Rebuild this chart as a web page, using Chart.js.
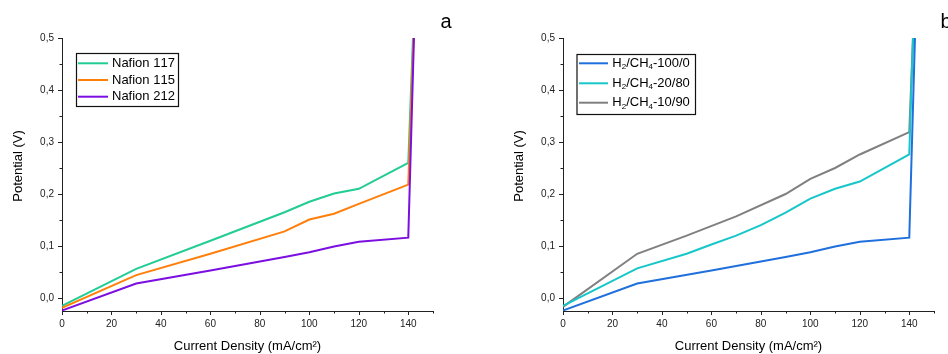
<!DOCTYPE html>
<html><head><meta charset="utf-8">
<script src="https://cdn.jsdelivr.net/npm/chart.js@4.4.1/dist/chart.umd.min.js"></script>
<style>
html,body{margin:0;padding:0;background:#fff;width:948px;height:354px;overflow:hidden}
.pane{position:absolute;top:0;width:474px;height:354px}
</style></head><body>
<div class="pane" style="left:0"><canvas id="ca" width="474" height="354"></canvas></div>
<div class="pane" style="left:474px"><canvas id="cb" width="474" height="354"></canvas></div>
<script>
// ---------- data ----------
const yTickLabels = ['0,0','0,1','0,2','0,3','0,4','0,5'];
const xTickLabels = [0,20,40,60,80,100,120,140];

// Panel a – membranes
const labelsA = ['Nafion 117','Nafion 115','Nafion 212'];
const nafion117X = [0,30,60,90,100,110,120,140,141.9];
const nafion117Y = [-0.015,0.056,0.110,0.165,0.185,0.201,0.210,0.260,0.5];
const nafion115X = [0,30,60,90,100,110,120,140,142.1];
const nafion115Y = [-0.019,0.044,0.085,0.128,0.151,0.162,0.181,0.218,0.5];
const nafion212X = [0,30,60,90,100,110,120,140,142.3];
const nafion212Y = [-0.024,0.028,0.053,0.079,0.088,0.099,0.108,0.116,0.5];

// Panel b – fuel composition
const labelsB = ['H\u2082/CH\u2084-100/0','H\u2082/CH\u2084-20/80','H\u2082/CH\u2084-10/90'];
const h2_100X = [0,30,60,90,100,110,120,140,142.3];
const h2_100Y = [-0.024,0.028,0.053,0.079,0.088,0.099,0.108,0.116,0.5];
const h2_20X = [0,30,50,60,70,80,90,100,110,120,140,141.5];
const h2_20Y = [-0.015,0.057,0.085,0.103,0.120,0.140,0.164,0.191,0.210,0.224,0.276,0.5];
const h2_10X = [0,30,50,70,90,100,110,120,140,141.5];
const h2_10Y = [-0.017,0.085,0.120,0.157,0.200,0.229,0.250,0.276,0.319,0.5];

const colorsA = ['#22cc95','#ff7f0a','#7b0ee0'];
const colorsB = ['#1f6fdc','#17c6c8','#808080'];

// ---------- helpers ----------
const FONT = "'Liberation Sans', Arial, Helvetica, sans-serif";
const pts = (xs, ys) => xs.map((x, i) => ({x, y: ys[i]}));

function drawRich(ctx, text, x, y, size) {
  let cx = x;
  for (const ch of text) {
    const c = ch.charCodeAt(0);
    if (c >= 0x2080 && c <= 0x2089) {
      const d = String.fromCharCode(48 + c - 0x2080);
      ctx.font = Math.round(size * 0.62) + 'px ' + FONT;
      ctx.fillText(d, cx, y + size * 0.3);
      cx += ctx.measureText(d).width;
    } else {
      ctx.font = size + 'px ' + FONT;
      ctx.fillText(ch, cx, y);
      cx += ctx.measureText(ch).width;
    }
  }
}

const decorPlugin = {
  id: 'decor',
  afterDraw(chart, args, o) {
    const ctx = chart.ctx, xs = chart.scales.x, ys = chart.scales.y, ca = chart.chartArea;
    ctx.save();
    // tick marks (major + minor), outward
    ctx.strokeStyle = '#222'; ctx.lineWidth = 1; ctx.beginPath();
    xs.ticks.forEach(t => {
      const px = Math.round(xs.getPixelForValue(t.value)) + 0.5;
      const major = Math.round(t.value) % 20 === 0;
      ctx.moveTo(px, ca.bottom); ctx.lineTo(px, ca.bottom + (major ? 4 : 2.5));
    });
    ys.ticks.forEach(t => {
      if (t.value < -0.001) return;
      const py = Math.round(ys.getPixelForValue(t.value)) + 0.5;
      const major = Math.abs(Math.round(t.value * 1000)) % 100 === 0;
      ctx.moveTo(ca.left, py); ctx.lineTo(ca.left - (major ? 4 : 2.5), py);
    });
    ctx.stroke();

    // y axis title
    ctx.fillStyle = '#000';
    ctx.font = '13px ' + FONT;
    ctx.textAlign = 'center'; ctx.textBaseline = 'middle';
    ctx.translate(o.yTitleX, o.yTitleY); ctx.rotate(-Math.PI / 2);
    ctx.fillText('Potential (V)', 0, 0);
    ctx.setTransform(1, 0, 0, 1, 0, 0);

    // panel letter
    ctx.font = '20px ' + FONT; ctx.textAlign = 'left'; ctx.textBaseline = 'alphabetic';
    ctx.fillText(o.letter, o.letterX, 28);

    // legend box
    const L = o.legend;
    ctx.strokeStyle = '#111'; ctx.lineWidth = 1.2;
    ctx.strokeRect(L.x + 0.5, L.y + 0.5, L.w, L.h);
    chart.data.datasets.forEach((ds, i) => {
      const ry = L.rows[i];
      ctx.strokeStyle = ds.borderColor; ctx.lineWidth = 2;
      ctx.beginPath(); ctx.moveTo(L.lx0, ry); ctx.lineTo(L.lx1, ry); ctx.stroke();
      ctx.fillStyle = '#000'; ctx.textBaseline = 'middle'; ctx.textAlign = 'left';
      drawRich(ctx, ds.label, L.tx, ry, 13);
    });
    ctx.restore();
  }
};

function makeChart(id, datasets, rightPad, yWidth, decor) {
  return new Chart(document.getElementById(id), {
    type: 'line',
    data: {datasets},
    options: {
      responsive: false, animation: false, devicePixelRatio: 1,
      layout: {padding: {left: 0, right: rightPad, top: 38, bottom: 0}},
      plugins: {legend: {display: false}, tooltip: {enabled: false}, decor},
      elements: {point: {radius: 0}, line: {tension: 0, borderWidth: 2}},
      scales: {
        x: {
          type: 'linear', min: 0, max: 150,
          grid: {display: false, drawTicks: false},
          border: {display: true, color: '#222', width: 1},
          ticks: {stepSize: 10, padding: 7, color: '#222', font: {family: FONT, size: 10},
            autoSkip: false, maxRotation: 0,
            callback: v => xTickLabels.includes(Math.round(v)) && Math.abs(v - Math.round(v)) < 1e-6 ? String(Math.round(v)) : ''},
          title: {display: true, text: 'Current Density (mA/cm\u00B2)', color: '#000',
            font: {family: FONT, size: 13}, padding: {top: 0, bottom: 0}},
          afterFit: s => { s.height = 43; }
        },
        y: {
          type: 'linear', min: -0.025, max: 0.5,
          grid: {display: false, drawTicks: false},
          border: {display: true, color: '#222', width: 1},
          ticks: {stepSize: 0.05, padding: 8, color: '#222', font: {family: FONT, size: 10}, autoSkip: false,
            callback: v => { const k = Math.round(v * 1000); return (k >= 0 && k % 100 === 0) ? yTickLabels[k / 100] : ''; }},
          afterFit: s => { s.width = yWidth; }
        }
      }
    },
    plugins: [decorPlugin]
  });
}

makeChart('ca', [
  {label: labelsA[0], data: pts(nafion117X, nafion117Y), borderColor: colorsA[0], order: 2},
  {label: labelsA[1], data: pts(nafion115X, nafion115Y), borderColor: colorsA[1], order: 1},
  {label: labelsA[2], data: pts(nafion212X, nafion212Y), borderColor: colorsA[2], order: 0}
], 41, 62, {
  yTitleX: 18, yTitleY: 166, letter: 'a', letterX: 440.5,
  legend: {x: 76, y: 53, w: 102, h: 53, rows: [63.3, 80, 96.7], lx0: 78, lx1: 108, tx: 112}
});

makeChart('cb', [
  {label: labelsB[0], data: pts(h2_100X, h2_100Y), borderColor: colorsB[0]},
  {label: labelsB[1], data: pts(h2_20X, h2_20Y), borderColor: colorsB[1]},
  {label: labelsB[2], data: pts(h2_10X, h2_10Y), borderColor: colorsB[2]}
], 14, 89, {
  yTitleX: 45, yTitleY: 166, letter: 'b', letterX: 466.5,
  legend: {x: 102.5, y: 54, w: 118.5, h: 60, rows: [63.3, 83.3, 102.7], lx0: 105, lx1: 134, tx: 138.3}
});
</script>
</body></html>
